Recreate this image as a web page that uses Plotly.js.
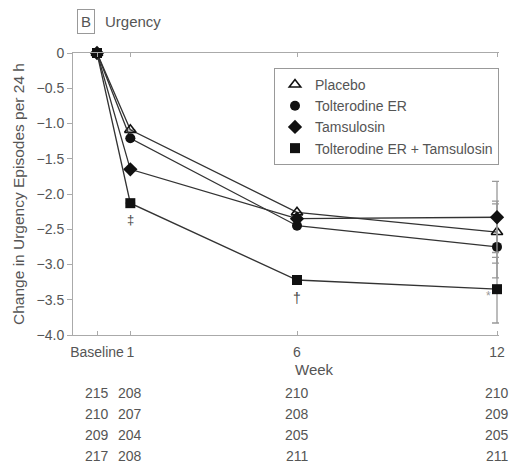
<!DOCTYPE html>
<html>
<head>
<meta charset="utf-8">
<script src="https://cdn.plot.ly/plotly-3.0.1.min.js"></script>
<style>html,body{margin:0;padding:0;background:#fff;}#chart{width:509px;height:475px;}</style>
</head>
<body>
<div id="chart"></div>
<script>
const weeks = [0, 1, 6, 12];
const weekLabels = ["Baseline", "1", "6", "12"];
const seriesNames = ["Placebo", "Tolterodine ER", "Tamsulosin", "Tolterodine ER + Tamsulosin"];
const placebo = [0, -1.09, -2.26, -2.54];
const tolterodine = [0, -1.21, -2.45, -2.75];
const tamsulosin = [0, -1.65, -2.35, -2.33];
const combo = [0, -2.13, -3.22, -3.35];
const errPlus = [0.44, 0.61, 0.51, 0.45];
const errMinus = [0.44, 0.44, 0.50, 0.48];
const nPlacebo = [215, 208, 210, 210];
const nTolterodine = [210, 207, 208, 209];
const nTamsulosin = [209, 204, 205, 205];
const nCombo = [217, 208, 211, 211];
const yTicks = [0, -0.5, -1.0, -1.5, -2.0, -2.5, -3.0, -3.5, -4.0];
const yTickText = ["0", "\u22120.5", "\u22121.0", "\u22121.5", "\u22122.0", "\u22122.5", "\u22123.0", "\u22123.5", "\u22124.0"];

const FONT = "Liberation Sans, Arial, Helvetica, sans-serif";
const seriesValues = [placebo, tolterodine, tamsulosin, combo];
const symbols = ["triangle-up-open", "circle", "diamond", "square"];
const sizes = [10, 10, 11, 10];
const counts = [nPlacebo, nTolterodine, nTamsulosin, nCombo];

const traces = seriesValues.map((vals, i) => ({
  x: weeks,
  y: vals,
  name: seriesNames[i],
  mode: "lines+markers",
  line: {color: "#333", width: 1.3},
  marker: {symbol: symbols[i], size: sizes[i], color: "#111", line: {color: "#111", width: i === 0 ? 1.6 : 0}},
  error_y: {
    type: "data", symmetric: false,
    array: weeks.map(w => w === 12 ? errPlus[i] : 0),
    arrayminus: weeks.map(w => w === 12 ? errMinus[i] : 0),
    color: "#999", thickness: 1.3, width: 5
  },
  showlegend: false,
  cliponaxis: false
}));

// legend-only entries (markers without line)
seriesNames.forEach((n, i) => {
  traces.push({
    x: [null], y: [null], name: n, mode: "markers",
    marker: {symbol: symbols[i], size: sizes[i], color: "#111", line: {color: "#111", width: i === 0 ? 1.6 : 0}},
    showlegend: true
  });
});

const annotations = [
  {xref: "paper", yref: "paper", x: 0.031, y: 1.113, text: "B", showarrow: false,
   font: {family: FONT, size: 15, color: "#555"}, bordercolor: "#999", borderwidth: 1, borderpad: 3, xanchor: "center", yanchor: "middle"},
  {xref: "paper", yref: "paper", x: 0.071, y: 1.113, text: "Urgency", showarrow: false,
   font: {family: FONT, size: 15, color: "#555"}, xanchor: "left", yanchor: "middle"},
  {xref: "paper", yref: "paper", x: 0.566, y: -0.124, text: "Week", showarrow: false,
   font: {family: FONT, size: 15, color: "#555"}, xanchor: "center", yanchor: "middle"},
  {xref: "x", yref: "y", x: 1, y: -2.36, text: "\u2021", showarrow: false,
   font: {family: FONT, size: 13, color: "#444"}},
  {xref: "x", yref: "y", x: 6, y: -3.47, text: "\u2020", showarrow: false,
   font: {family: FONT, size: 14, color: "#444"}},
  {xref: "x", yref: "y", x: 11.74, y: -3.45, text: "*", showarrow: false,
   font: {family: FONT, size: 12, color: "#999"}}
];
const rowY = [-0.206, -0.280, -0.355, -0.429];
counts.forEach((row, r) => {
  row.forEach((v, c) => {
    annotations.push({xref: "x", yref: "paper", x: weeks[c], y: rowY[r], text: String(v), showarrow: false,
      font: {family: FONT, size: 14, color: "#555"}, xanchor: "center", yanchor: "middle"});
  });
});

const layout = {
  width: 509, height: 475,
  margin: {l: 73, r: 10, t: 53, b: 140},
  paper_bgcolor: "#fff", plot_bgcolor: "#fff",
  font: {family: FONT, size: 14, color: "#555"},
  xaxis: {
    range: [-0.72, 12.06], tickvals: weeks, ticktext: weekLabels,
    showgrid: false, zeroline: false, showline: true, linecolor: "#aaa", linewidth: 1,
    mirror: "ticks", ticks: "inside", ticklen: 4, tickcolor: "#aaa",
    tickfont: {family: FONT, size: 14, color: "#555"}, ticklabelstandoff: 4
  },
  yaxis: {
    range: [-4, 0], tickvals: yTicks, ticktext: yTickText,
    showgrid: false, zeroline: false, showline: true, linecolor: "#aaa", linewidth: 1,
    ticks: "outside", ticklen: 5, tickcolor: "#aaa",
    tickfont: {family: FONT, size: 14, color: "#555"},
    title: {text: "Change in Urgency Episodes per 24 h", font: {family: FONT, size: 15.5, color: "#555"}, standoff: 8}
  },
  legend: {
    x: 1.0, y: 0.947, xanchor: "right", yanchor: "top",
    bgcolor: "#fff", bordercolor: "#999", borderwidth: 1,
    font: {family: FONT, size: 14, color: "#555"}, itemwidth: 30, tracegroupgap: 0
  },
  annotations: annotations,
  showlegend: true
};

Plotly.newPlot("chart", traces, layout, {displayModeBar: false, staticPlot: true});
</script>
</body>
</html>
